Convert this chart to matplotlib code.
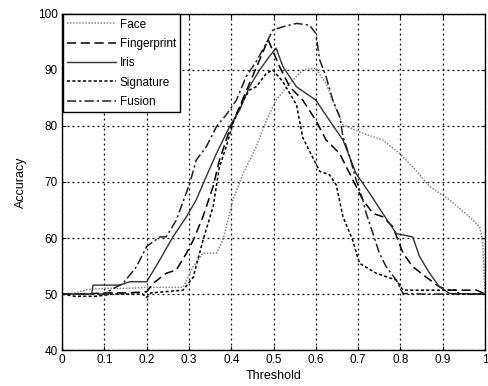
import matplotlib
matplotlib.use("Agg")
import matplotlib.pyplot as plt

plt.rcParams['font.family'] = ['Liberation Sans', 'DejaVu Sans']

# Face
face_x = [0.0, 0.03, 0.06, 0.1, 0.15, 0.2, 0.25, 0.286, 0.31, 0.333, 0.365, 0.38, 0.404, 0.428, 0.459,
          0.483, 0.506, 0.538, 0.569, 0.6, 0.624, 0.648, 0.664, 0.711, 0.758, 0.798, 0.829, 0.869,
          0.916, 0.963, 0.987, 0.994, 1.0]
face_y = [50.0, 50.2, 50.8, 51.0, 51.0, 51.2, 51.2, 51.2, 54.9, 57.3, 57.3, 59.6, 66.8, 71.5, 76.3,
          81.0, 84.6, 87.6, 90.0, 90.3, 87.6, 82.9, 80.2, 78.7, 77.5, 75.1, 72.7, 69.2,
          66.8, 63.8, 62.0, 59.6, 50.0]

# Fingerprint
finger_x = [0.0, 0.05, 0.1, 0.15, 0.2, 0.215, 0.246, 0.27, 0.294, 0.31, 0.333, 0.357, 0.372, 0.396,
            0.42, 0.443, 0.467, 0.487, 0.514, 0.538, 0.569, 0.6, 0.624, 0.656, 0.68, 0.711, 0.735,
            0.758, 0.782, 0.806, 0.829, 0.861, 0.892, 0.916, 0.98, 1.0]
finger_y = [50.0, 50.0, 50.2, 50.2, 50.4, 51.9, 53.7, 54.3, 57.3, 59.6, 63.8, 69.2, 73.9, 79.3,
            83.5, 87.6, 91.8, 95.4, 90.6, 87.0, 84.6, 81.0, 77.5, 75.1, 71.5, 66.8, 64.4,
            63.8, 62.0, 57.3, 54.9, 53.0, 51.3, 50.7, 50.7, 50.0]

# Iris
iris_x = [0.0, 0.07, 0.073, 0.136, 0.16, 0.2, 0.231, 0.262, 0.294, 0.317, 0.341, 0.365, 0.396, 0.42,
          0.443, 0.467, 0.49, 0.506, 0.522, 0.554, 0.6, 0.632, 0.664, 0.695, 0.727, 0.758, 0.79,
          0.829, 0.845, 0.869, 0.892, 0.916, 1.0]
iris_y = [50.0, 50.0, 51.6, 51.6, 52.2, 52.2, 56.1, 60.2, 63.8, 66.8, 71.0, 75.1, 79.9, 82.9,
          87.0, 90.0, 92.4, 93.9, 90.6, 87.0, 84.6, 81.0, 77.5, 71.5, 68.0, 64.4, 60.8,
          60.2, 56.7, 53.7, 51.3, 50.1, 50.0]

# Signature
sig_x = [0.0, 0.03, 0.08, 0.12, 0.19, 0.2, 0.21, 0.286, 0.31, 0.333, 0.357, 0.372, 0.388, 0.404,
         0.428, 0.443, 0.459, 0.483, 0.498, 0.522, 0.554, 0.569, 0.593, 0.609, 0.632, 0.648,
         0.664, 0.687, 0.703, 0.743, 0.79, 0.806, 0.93, 0.94, 1.0]
sig_y = [50.0, 49.6, 49.6, 50.0, 50.0, 49.4, 50.2, 50.7, 53.0, 59.6, 65.6, 72.7, 76.3, 80.5,
         84.6, 86.4, 87.0, 89.4, 90.0, 87.9, 83.8, 77.9, 74.3, 71.9, 71.3, 69.5,
         63.8, 59.6, 55.5, 53.7, 52.5, 50.7, 50.7, 50.0, 50.0]

# Fusion
fusion_x = [0.0, 0.097, 0.144, 0.176, 0.2, 0.231, 0.246, 0.27, 0.302, 0.317, 0.341, 0.365, 0.388,
            0.412, 0.435, 0.459, 0.483, 0.498, 0.522, 0.554, 0.585, 0.6, 0.609, 0.624, 0.64, 0.656,
            0.664, 0.68, 0.695, 0.711, 0.719, 0.735, 0.75, 0.766, 0.79, 0.806, 0.85, 1.0]
fusion_y = [50.0, 50.0, 51.9, 54.9, 58.5, 60.2, 60.2, 63.2, 69.8, 73.9, 76.3, 79.9, 82.0,
            84.6, 88.8, 91.5, 94.8, 97.1, 97.7, 98.3, 98.0, 96.5, 91.8, 88.8, 84.6, 81.7,
            78.1, 74.5, 70.4, 66.8, 64.4, 60.8, 57.3, 54.9, 52.5, 50.1, 50.0, 50.0]

labels = ['Face', 'Fingerprint', 'Iris', 'Signature', 'Fusion']
x_ticks = [0, 0.1, 0.2, 0.3, 0.4, 0.5, 0.6, 0.7, 0.8, 0.9, 1]
x_tick_labels = ['0', '0.1', '0.2', '0.3', '0.4', '0.5', '0.6', '0.7', '0.8', '0.9', '1']
y_ticks = [40, 50, 60, 70, 80, 90, 100]

fig = plt.figure(figsize=(4.89, 3.86), dpi=100)
ax = fig.add_axes([0.127, 0.093, 0.865, 0.871])

ax.plot(face_x, face_y, color='#888888', linestyle=(0, (1, 1)), linewidth=1.1, label=labels[0])
ax.plot(finger_x, finger_y, color='black', linestyle=(0, (6, 3)), linewidth=1.1, label=labels[1])
ax.plot(iris_x, iris_y, color='#333333', linestyle='-', linewidth=1.0, label=labels[2])
ax.plot(sig_x, sig_y, color='black', linestyle=(0, (2, 1.5)), linewidth=1.1, label=labels[3])
ax.plot(fusion_x, fusion_y, color='#222222', linestyle=(0, (6, 2, 1.5, 2)), linewidth=1.1, label=labels[4])

ax.set_xlim(0, 1)
ax.set_ylim(40, 100)
ax.set_xticks(x_ticks)
ax.set_xticklabels(x_tick_labels)
ax.set_yticks(y_ticks)
ax.tick_params(direction='in', length=3, labelsize=8.5, top=True, right=True, colors='black', pad=3)
ax.grid(True, color='black', linestyle=(0, (1.5, 2.5)), linewidth=0.9)
for s in ax.spines.values():
    s.set_linewidth(1.0)
    s.set_color('black')

ax.set_xlabel('Threshold', fontsize=9, labelpad=3)
ax.set_ylabel('Accuracy', fontsize=9, labelpad=8)

leg = ax.legend(loc='upper left', fontsize=8.5, handlelength=4.2, frameon=True, fancybox=False,
                borderaxespad=0.05, labelspacing=0.62, borderpad=0.35, handletextpad=0.3)
leg.get_frame().set_edgecolor('black')
leg.get_frame().set_linewidth(1.0)
leg.get_frame().set_alpha(1.0)

fig.savefig('out.png', dpi=100)
